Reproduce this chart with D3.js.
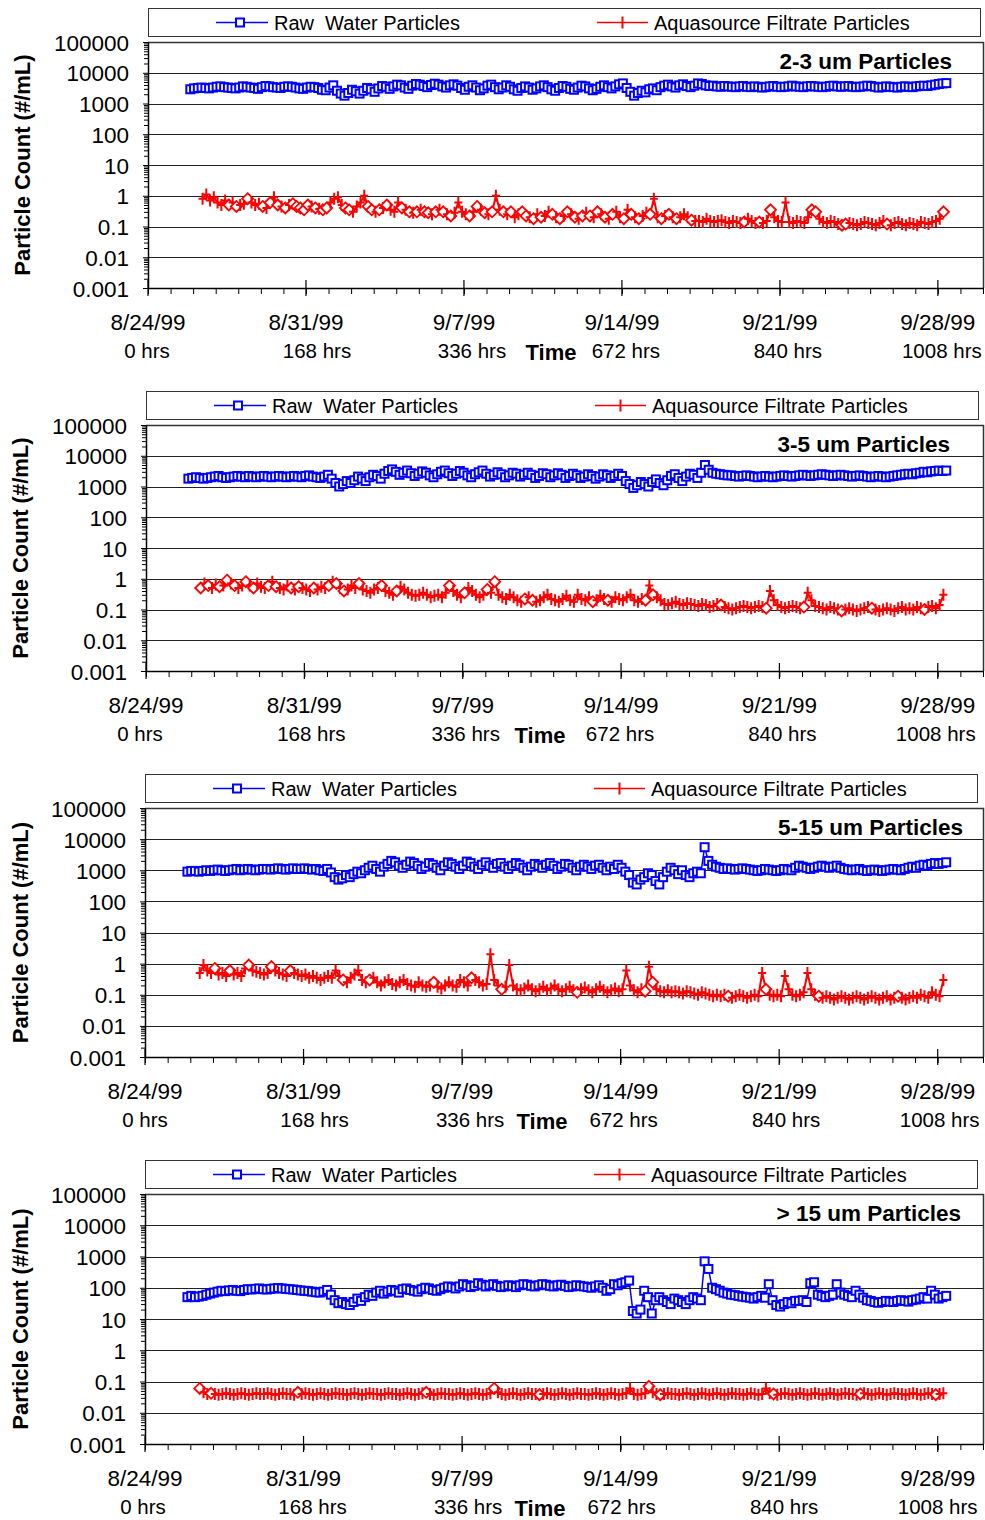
<!DOCTYPE html>
<html><head><meta charset="utf-8">
<script src="https://cdn.jsdelivr.net/npm/d3@7"></script>
<style>
body{margin:0;background:#fff}
text{font-family:"Liberation Sans",Arial,sans-serif;fill:#000}
</style>
</head><body>
<svg id="c" width="985" height="1520"></svg>
<script>
// ---------- data ----------
const dateLabels = ["8/24/99","8/31/99","9/7/99","9/14/99","9/21/99","9/28/99"];
const dateDays = [0,7,14,21,28,35];
const hourLabels = ["0 hrs","168 hrs","336 hrs","672 hrs","840 hrs","1008 hrs"];
const yTickValues = [0.001,0.01,0.1,1,10,100,1000,10000,100000];
const yTickLabels = ["0.001","0.01","0.1","1","10","100","1000","10000","100000"];
const panelTitles = ["2-3 um Particles","3-5 um Particles","5-15 um Particles","> 15 um Particles"];
const seriesNames = ["Raw  Water Particles","Aquasource Filtrate Particles"];
const yTitle = "Particle Count (#/mL)";
const xTitle = "Time";
const rawStartHr = 45, filStartHr = 58, sampleHr = 4;

const raw23 = [
2900,3100,3200,3300,3200,3100, 3300,3500,3600,3400,3300,3200, 3100,3300,3600,3500,3300,3200,
3000,3400,3700,3600,3400,3300, 3200,3500,3600,3500,3300,3100, 3000,3300,3500,3400,3200,2800,
2700,3300,3900,2600,2100,1800, 2200,2800,2500,2100,2600,3200, 2900,2400,3100,3700,3500,3000,
3600,4100,3900,3300,3000,3800, 4300,4100,3700,3400,4000,4400, 4100,3600,3300,3900,4200,3800,
3200,2800,3500,3900,3300,2700, 3100,3800,4100,3400,2900,3300, 3900,3500,2900,2600,3200,3600,
3300,2800,3100,3600,3900,3400, 2900,2600,3200,3700,3500,3000, 2800,3300,3800,3600,3100,2700,
3000,3500,3900,3400,3100,3600, 4200,4500,3200,2400,1800,2200, 2600,2300,2900,3100,2700,3400,
3800,4100,3600,3300,3900,4200, 3700,3400,3800,4500,4300,3900, 3700,3800,3600,3500,3700,3600,
3500,3400,3600,3700,3500,3400, 3600,3500,3300,3400,3600,3700, 3500,3400,3500,3600,3800,3600,
3500,3400,3600,3700,3600,3500, 3400,3500,3700,3800,3600,3500, 3600,3700,3500,3400,3500,3600,
3800,3700,3500,3300,3400,3600, 3500,3400,3300,3500,3600,3500, 3400,3600,3700,3800,3700,3900,
4100,4300,4500,4600];
const fil23 = [
0.8,1.1,0.7,0.9,0.6,0.5, 0.7,0.5,0.6,0.45,0.5,0.55, 0.8,0.6,0.5,0.55,0.45,0.4,
0.6,0.9,0.5,0.45,0.4,0.5, 0.55,0.45,0.4,0.35,0.5,0.45, 0.4,0.38,0.35,0.4,0.6,0.8,
0.9,0.5,0.4,0.35,0.3,0.45, 0.6,1.0,0.45,0.35,0.3,0.35, 0.4,0.5,0.35,0.3,0.6,0.4,
0.35,0.3,0.28,0.3,0.35,0.3, 0.28,0.25,0.3,0.35,0.3,0.25, 0.22,0.28,0.6,0.3,0.25,0.22,
0.3,0.45,0.35,0.28,0.25,0.3, 1.0,0.35,0.3,0.25,0.3,0.2, 0.25,0.3,0.22,0.2,0.18,0.25,
0.2,0.22,0.3,0.25,0.2,0.18, 0.22,0.3,0.25,0.2,0.18,0.22, 0.28,0.22,0.2,0.3,0.25,0.2,
0.18,0.25,0.3,0.2,0.18,0.35, 0.25,0.2,0.18,0.22,0.28,0.25, 0.8,0.2,0.18,0.22,0.25,0.2,
0.18,0.2,0.25,0.2,0.16,0.15, 0.15,0.14,0.18,0.15,0.14,0.15, 0.16,0.14,0.13,0.15,0.14,0.13,
0.14,0.18,0.15,0.13,0.14,0.13, 0.15,0.35,0.2,0.15,0.14,0.6, 0.14,0.13,0.15,0.14,0.13,0.2,
0.35,0.3,0.18,0.14,0.13,0.15, 0.14,0.12,0.11,0.12,0.13,0.12, 0.11,0.12,0.14,0.13,0.12,0.11,
0.13,0.15,0.12,0.11,0.13,0.14, 0.12,0.11,0.13,0.12,0.11,0.14, 0.13,0.12,0.14,0.15,0.18,0.3];
const dia23 = [7,9,12,16,18,20,22,24,25,26,27,28,30,32,33,38,39,44,45,47,49,53,55,57,59,60,62,64,66,71,73,75,77,80,82,85,86,88,90,93,95,97,99,101,103,105,107,109,112,114,116,119,122,124,126,130,144,148,151,162,163,170,171,182,197];

const raw35 = [
1800,1900,2000,1900,1800,1900, 2000,2100,2200,2000,1900,2000, 2100,2200,2100,2000,2200,2100,
2000,2100,2200,2100,2000,2100, 2200,2100,2000,2100,2200,2100, 2000,2200,2300,2100,2000,1900,
2100,2400,1800,1300,1000,1200, 1500,1300,1600,2100,1800,1500, 2000,2400,2200,1800,2600,3200,
3600,3000,2400,2800,3300,2700, 2200,2600,3100,2800,2300,2000, 2500,3000,3300,2700,2200,2600,
3200,2800,2300,2000,2500,2900, 3300,2600,2100,2400,2900,2500, 2000,2300,2800,2600,2100,2400,
2800,2400,1900,2200,2700,2500, 2000,2300,2700,2400,1900,2200, 2600,2300,1900,2100,2500,2200,
1800,2100,2500,2300,1900,2200, 2600,2200,1500,1200,900,1100, 1400,1200,1000,1400,1700,1300,
1100,1600,2200,2500,1900,1500, 2100,2600,2400,1900,2800,5000, 3500,2800,2600,2500,2400,2300,
2300,2200,2100,2200,2300,2200, 2100,2000,2100,2200,2100,2000, 2100,2200,2300,2200,2100,2200,
2300,2400,2300,2200,2300,2400, 2500,2400,2300,2200,2300,2400, 2300,2200,2100,2200,2300,2200,
2100,2000,2100,2200,2100,2000, 2100,2200,2300,2400,2500,2600, 2500,2700,2800,3000,2900,3100,
3200,3300,3200,3300];
const fil35 = [
0.5,0.7,0.6,0.5,0.65,0.55, 0.6,0.9,0.7,0.6,0.5,0.6, 0.8,0.6,0.5,0.7,0.55,0.5,
0.6,0.8,0.55,0.5,0.45,0.6, 0.5,0.45,0.55,0.5,0.45,0.4, 0.5,0.45,0.55,0.5,0.6,0.8,
0.7,0.5,0.4,0.45,0.6,0.5, 0.7,0.45,0.4,0.35,0.45,0.5, 0.6,0.4,0.35,0.3,0.4,0.55,
0.45,0.35,0.3,0.28,0.3,0.35, 0.3,0.25,0.28,0.3,0.25,0.35, 0.6,0.4,0.3,0.25,0.35,0.5,
0.4,0.3,0.25,0.3,0.45,0.35, 0.8,0.3,0.25,0.22,0.3,0.25, 0.2,0.18,0.22,0.25,0.2,0.18,
0.2,0.25,0.3,0.22,0.2,0.18, 0.22,0.28,0.2,0.18,0.3,0.22, 0.2,0.25,0.18,0.2,0.28,0.22,
0.2,0.18,0.25,0.22,0.2,0.25, 0.3,0.2,0.18,0.22,0.2,0.6, 0.3,0.25,0.2,0.15,0.14,0.16,
0.18,0.15,0.14,0.16,0.15,0.14, 0.13,0.15,0.14,0.12,0.13,0.15, 0.14,0.12,0.11,0.1,0.11,0.12,
0.13,0.12,0.11,0.12,0.13,0.12, 0.11,0.4,0.2,0.14,0.12,0.11, 0.12,0.13,0.12,0.11,0.12,0.35,
0.2,0.13,0.12,0.11,0.1,0.12, 0.11,0.1,0.09,0.1,0.11,0.1, 0.09,0.1,0.11,0.12,0.11,0.1,
0.09,0.1,0.11,0.1,0.09,0.11, 0.12,0.1,0.11,0.1,0.12,0.11, 0.1,0.12,0.13,0.11,0.14,0.3];
const dia35 = [0,2,5,7,9,12,14,18,20,24,26,30,34,36,38,42,48,52,66,70,76,78,86,88,104,108,118,120,138,150,160,170,178,192];

const raw515 = [
900,950,950,900,950,1000, 950,1000,1050,1000,950,1000, 1050,1100,1000,1050,1100,1050,
1000,1050,1100,1100,1050,1100, 1150,1100,1050,1100,1150,1100, 1100,1150,1100,1050,1100,1000,
950,1100,850,600,500,550, 700,600,750,900,800,1000, 1200,1400,1100,900,1300,1600,
2000,1800,1400,1200,1500,1900, 1700,1400,1100,1300,1700,1500, 1200,1000,1400,1800,1600,1300,
1100,1400,1900,1700,1300,1100, 1500,1800,1400,1200,1600,1700, 1300,1100,1400,1700,1500,1200,
1000,1300,1600,1400,1200,1500, 1700,1400,1100,1300,1600,1500, 1200,1000,1300,1500,1300,1100,
1400,1500,1200,1000,1300,1100, 1500,1200,900,700,400,350, 500,600,800,700,450,350,
600,900,1200,1000,750,1000, 700,600,800,900,800,5500, 2000,1500,1300,1200,1100,1150,
1100,1050,1100,1150,1100,1050, 1000,950,1000,1100,1050,1000, 950,1000,1100,1050,1000,1200,
1400,1300,1200,1100,1200,1300, 1400,1300,1200,1300,1400,1200, 1100,1050,1000,1050,1100,1000,
950,1000,1050,1000,950,1000, 1050,1100,1050,1000,1100,1200, 1300,1200,1400,1500,1400,1600,
1700,1600,1700,1800];
const fil515 = [
0.5,0.9,0.6,0.5,0.7,0.45, 0.5,0.4,0.6,0.45,0.5,0.4, 0.7,0.9,0.6,0.55,0.5,0.45,
0.5,0.8,0.6,0.5,0.45,0.4, 0.6,0.5,0.45,0.4,0.45,0.35, 0.4,0.35,0.3,0.35,0.4,0.35,
0.6,0.4,0.3,0.25,0.35,0.45, 0.6,0.3,0.25,0.3,0.35,0.25, 0.2,0.25,0.3,0.22,0.2,0.25,
0.3,0.22,0.2,0.18,0.25,0.2, 0.18,0.2,0.25,0.18,0.16,0.2, 0.25,0.2,0.18,0.3,0.25,0.2,
0.35,0.3,0.25,0.2,0.22,2.0, 0.3,0.2,0.15,0.18,0.9,0.2, 0.15,0.14,0.16,0.2,0.15,0.13,
0.15,0.18,0.14,0.16,0.2,0.15, 0.13,0.15,0.18,0.14,0.12,0.15, 0.17,0.14,0.12,0.15,0.18,0.14,
0.12,0.14,0.16,0.13,0.15,0.6, 0.2,0.14,0.12,0.15,0.13,0.8, 0.25,0.15,0.13,0.12,0.14,0.12,
0.13,0.12,0.11,0.13,0.12,0.11, 0.1,0.12,0.11,0.1,0.09,0.1, 0.09,0.1,0.09,0.08,0.09,0.1,
0.09,0.08,0.09,0.1,0.09,0.5, 0.15,0.1,0.09,0.1,0.09,0.4, 0.15,0.1,0.09,0.1,0.12,0.5,
0.15,0.1,0.09,0.08,0.09,0.08, 0.07,0.08,0.09,0.08,0.07,0.08, 0.09,0.08,0.07,0.08,0.09,0.08,
0.07,0.08,0.09,0.07,0.08,0.09, 0.08,0.07,0.08,0.09,0.08,0.1, 0.09,0.08,0.12,0.1,0.09,0.3];
const dia515 = [4,8,13,19,24,38,45,62,72,80,100,118,120,140,150,164,185];

const raw15 = [
50,55,50,52,55,60, 65,70,75,80,78,82, 85,80,78,85,90,88,
92,95,90,88,92,95, 98,95,92,90,88,85, 82,80,78,75,72,70,
75,85,60,40,32,35, 30,28,35,45,38,50, 60,55,70,80,65,75,
85,80,70,90,95,85, 80,75,90,100,95,85, 80,90,100,110,105,95,
110,130,120,105,115,140, 125,110,120,130,115,105, 110,120,115,105,120,130,
125,115,110,120,130,125, 115,110,120,125,115,105, 110,120,115,110,105,100,
110,120,100,80,90,130, 120,140,150,170,18,15, 20,80,50,15,40,50,
40,35,30,45,40,35, 30,40,50,45,40,700, 400,100,90,80,70,65,
60,58,55,52,50,48, 45,50,55,48,130,40, 28,25,30,35,32,38,
38,40,35,140,150,60, 55,50,55,60,130,70, 60,55,50,80,60,48,
40,38,35,33,35,38, 36,35,38,40,38,36, 40,42,45,50,45,80,
60,45,50,55];
const fil15 = [
0.06,0.045,0.04,0.042,0.04,0.038, 0.04,0.042,0.04,0.038,0.04,0.042, 0.04,0.038,0.04,0.042,0.04,0.04,
0.042,0.04,0.038,0.04,0.042,0.04, 0.04,0.038,0.045,0.04,0.042,0.04, 0.038,0.04,0.042,0.04,0.038,0.04,
0.042,0.04,0.04,0.038,0.04,0.042, 0.04,0.038,0.04,0.042,0.04,0.04, 0.038,0.04,0.042,0.04,0.04,0.038,
0.04,0.042,0.04,0.038,0.04,0.042, 0.045,0.04,0.038,0.04,0.042,0.04, 0.04,0.038,0.04,0.042,0.04,0.038,
0.04,0.042,0.04,0.038,0.04,0.042, 0.06,0.045,0.04,0.038,0.04,0.042, 0.04,0.038,0.04,0.042,0.04,0.04,
0.038,0.04,0.042,0.04,0.038,0.04, 0.042,0.04,0.038,0.04,0.042,0.04, 0.04,0.038,0.04,0.042,0.04,0.038,
0.04,0.042,0.04,0.038,0.04,0.042, 0.06,0.04,0.038,0.04,0.042,0.07, 0.045,0.04,0.038,0.04,0.042,0.04,
0.04,0.038,0.04,0.042,0.04,0.038, 0.04,0.042,0.04,0.038,0.04,0.042, 0.04,0.038,0.04,0.042,0.04,0.04,
0.038,0.04,0.042,0.04,0.038,0.04, 0.06,0.042,0.04,0.038,0.04,0.042, 0.04,0.038,0.04,0.042,0.04,0.038,
0.04,0.042,0.04,0.038,0.04,0.042, 0.04,0.038,0.04,0.042,0.04,0.04, 0.038,0.04,0.042,0.04,0.038,0.04,
0.042,0.04,0.038,0.04,0.042,0.04, 0.04,0.038,0.04,0.042,0.04,0.038, 0.04,0.042,0.04,0.038,0.04,0.042];
const dia15 = [0,3,26,60,78,90,119,122,152,175,195];

const rawSeries = [raw23, raw35, raw515, raw15];
const filSeries = [fil23, fil35, fil515, fil15];
const diamondPoints = [dia23, dia35, dia515, dia15];

// ---------- layout ----------
const panels = [
  {top:42,  h:246, left:148, right:983, titleRight:952, yTitleX:30, timeX:551, hrOff:[-1,11,8,4,8,4]},
  {top:425, h:246, left:146, right:983, titleRight:950, yTitleX:28, timeX:540, hrOff:[-6,7,3,-1,3,-2]},
  {top:808, h:249, left:145, right:983, titleRight:963, yTitleX:28, timeX:542, hrOff:[0,11,8,3,7,2]},
  {top:1194,h:250, left:145, right:983, titleRight:961, yTitleX:28, timeX:540, hrOff:[-2,9,6,1,5,0]}
];
const BLUE = "#0000ff", RED = "#ff0000";
const svg = d3.select("#c");

const minorY = [];
for (let e=-3; e<5; e++) for (let m=2; m<10; m++) minorY.push(m*Math.pow(10,e));
const dayTicks = d3.range(0,38);

function square(g, cx, cy) {
  g.append("rect").attr("x",cx-4).attr("y",cy-4).attr("width",8).attr("height",8)
   .attr("fill","#fff").attr("stroke",BLUE).attr("stroke-width",2);
}
function plus(g, cx, cy) {
  g.append("path").attr("d",`M${cx-4},${cy}H${cx+4}M${cx},${cy-6}V${cy+6}`)
   .attr("stroke",RED).attr("stroke-width",2).attr("fill","none");
}
function diamond(g, cx, cy) {
  g.append("path").attr("d",`M${cx},${cy-5.5}L${cx+5.5},${cy}L${cx},${cy+5.5}L${cx-5.5},${cy}Z`)
   .attr("stroke",RED).attr("stroke-width",1.8).attr("fill","#fff");
}

panels.forEach((p,k)=>{
  const g = svg.append("g");
  const bottom = p.top + p.h;
  const x = d3.scaleLinear().domain([0,37]).range([p.left,p.right]);
  const y = d3.scaleLog().domain([0.001,100000]).range([bottom,p.top]);

  // legend
  const ly = p.top - 34;
  g.append("rect").attr("x",p.left+0.5).attr("y",ly+0.5).attr("width",832).attr("height",28)
   .attr("fill","#fff").attr("stroke","#333").attr("stroke-width",1);
  const lc = ly + 14.5;
  g.append("line").attr("x1",p.left+68).attr("x2",p.left+120).attr("y1",lc).attr("y2",lc).attr("stroke",BLUE).attr("stroke-width",1.5);
  square(g, p.left+92, lc);
  g.append("text").attr("x",p.left+126).attr("y",lc+7).attr("font-size",20).attr("xml:space","preserve").text(seriesNames[0]);
  g.append("line").attr("x1",p.left+449).attr("x2",p.left+500).attr("y1",lc).attr("y2",lc).attr("stroke",RED).attr("stroke-width",1.5);
  g.append("path").attr("d",`M${p.left+474.5},${lc-6}V${lc+6}`).attr("stroke",RED).attr("stroke-width",2);
  g.append("text").attr("x",p.left+506).attr("y",lc+7).attr("font-size",20).text(seriesNames[1]);

  // grid
  g.selectAll(".grid").data([0.01,0.1,1,10,100,1000,10000]).enter().append("line")
   .attr("x1",p.left).attr("x2",p.right).attr("y1",d=>Math.round(y(d))+0.5).attr("y2",d=>Math.round(y(d))+0.5)
   .attr("stroke","#222").attr("stroke-width",1);
  // frame top & right
  g.append("path").attr("d",`M${p.left},${p.top+0.5}H${p.right+0.5}V${bottom}`)
   .attr("fill","none").attr("stroke","#333").attr("stroke-width",1.5);

  // y axis
  const ya = g.append("g").attr("transform",`translate(${p.left},0)`)
    .call(d3.axisLeft(y).tickValues(yTickValues).tickFormat((d,i)=>yTickLabels[i]).tickSize(5).tickSizeOuter(0).tickPadding(14));
  ya.select(".domain").attr("stroke","#000").attr("stroke-width",1.5);
  ya.selectAll("text").attr("font-size",22.5).attr("font-family","Liberation Sans, Arial, sans-serif").attr("dy","0.36em");
  g.append("g").attr("transform",`translate(${p.left},0)`)
    .call(d3.axisLeft(y).tickValues(minorY).tickFormat("").tickSize(4).tickSizeOuter(0))
    .select(".domain").remove();

  // x axis
  const xa = g.append("g").attr("transform",`translate(0,${bottom})`)
    .call(d3.axisBottom(x).tickValues(dayTicks).tickFormat("").tickSize(6).tickSizeOuter(0));
  xa.select(".domain").attr("stroke","#000").attr("stroke-width",1.5);
  g.selectAll(".maj").data(dateDays).enter().append("line")
   .attr("x1",d=>x(d)).attr("x2",d=>x(d)).attr("y1",bottom-8).attr("y2",bottom+8)
   .attr("stroke","#000").attr("stroke-width",1.2);
  g.selectAll(".dl").data(dateLabels).enter().append("text")
   .attr("x",(d,i)=>x(dateDays[i])).attr("y",bottom+42).attr("text-anchor","middle")
   .attr("font-size",22.5).text(d=>d);
  g.selectAll(".hl").data(hourLabels).enter().append("text")
   .attr("x",(d,i)=>x(dateDays[i])+p.hrOff[i]).attr("y",bottom+70).attr("text-anchor","middle")
   .attr("font-size",20.5).text(d=>d);
  g.append("text").attr("x",p.timeX).attr("y",bottom+72).attr("text-anchor","middle")
   .attr("font-size",22).attr("font-weight","bold").text(xTitle);

  // y title
  g.append("text").attr("transform",`translate(${p.yTitleX},${p.top+p.h/2}) rotate(-90)`)
   .attr("text-anchor","middle").attr("font-size",22).attr("font-weight","bold").text(yTitle);

  // panel title
  g.append("text").attr("x",p.titleRight).attr("y",p.top+27).attr("text-anchor","end")
   .attr("font-size",22.5).attr("font-weight","bold").text(panelTitles[k]);

  // data
  const rawPts = rawSeries[k].map((v,i)=>({t:(rawStartHr+i*sampleHr)/24, v}));
  const filPts = filSeries[k].map((v,i)=>({t:(filStartHr+i*sampleHr)/24, v, i}));
  const line = d3.line().x(d=>x(d.t)).y(d=>y(d.v));
  const dg = g.append("g");
  dg.append("path").attr("d",line(rawPts)).attr("fill","none").attr("stroke",BLUE).attr("stroke-width",1.5);
  rawPts.forEach(d=>square(dg, x(d.t), y(d.v)));
  dg.append("path").attr("d",line(filPts)).attr("fill","none").attr("stroke",RED).attr("stroke-width",2);
  const dset = new Set(diamondPoints[k]);
  filPts.forEach(d=>{ if (dset.has(d.i)) diamond(dg, x(d.t), y(d.v)); else plus(dg, x(d.t), y(d.v)); });
});
</script>
</body></html>
